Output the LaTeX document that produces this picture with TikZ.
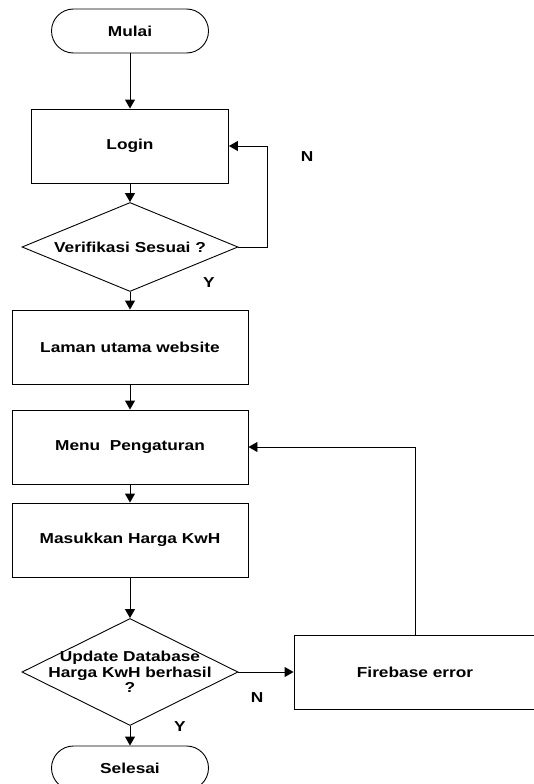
\documentclass[tikz,border=0pt]{standalone}
\usepackage{fontspec}
\setmainfont{Liberation Sans}[FakeStretch=1.2]
\usetikzlibrary{shapes.geometric,arrows.meta}
\begin{document}
\begin{tikzpicture}[x=1pt,y=-1pt,
  every node/.style={font=\fontsize{14.4}{15.3}\selectfont\bfseries, align=center},
  base/.style={draw, line width=0.9pt, inner sep=0pt},
  terminal/.style={base, rectangle, rounded corners=22pt, minimum width=157pt, minimum height=44pt},
  process/.style={base, rectangle, minimum height=74pt},
  decision/.style={base, diamond, minimum width=216pt},
  arr/.style={line width=0.9pt, -{Triangle[length=9pt,width=10pt]}},
  tag/.style={inner sep=0pt}]
  \useasboundingbox (0,0) rectangle (534,784);

  % flow nodes
  \node[terminal] (mulai) at (130,31) {Mulai};
  \node[process, minimum width=197pt] (login) at (130,146) {Login};
  \node[decision, minimum height=89pt] (verif) at (130,247) {};
  \node at (verif) {Verifikasi Sesuai ?};
  \node[process, minimum width=236pt] (laman) at (130,347) {Laman utama website};
  \node[process, minimum width=236pt] (menu) at (130,447) {Menu\ \ Pengaturan};
  \node[process, minimum width=236pt] (harga) at (130,540) {Masukkan Harga KwH};
  \node[decision, minimum height=107pt] (update) at (130,672) {};
  \node at (update) {Update Database\\Harga KwH berhasil\\?};
  \node[process, minimum width=242pt] (error) at (415,672) {Firebase error};
  \node[terminal] (selesai) at (130,768) {Selesai};

  % connectors
  \draw[arr] (mulai) -- (login);
  \draw[arr] (login) -- (verif);
  \draw[arr] (verif.east) -- ++(29,0) |- (login.east);
  \draw[arr] (verif) -- (laman);
  \draw[arr] (laman) -- (menu);
  \draw[arr] (menu) -- (harga);
  \draw[arr] (harga) -- (update);
  \draw[arr] (update.east) -- (error.west);
  \draw[arr] (error.north) |- (menu.east);
  \draw[arr] (update) -- (selesai);

  % branch labels
  \node[tag] (n1) at (307,157) {N};
  \node[tag] (y1) at (209,283) {Y};
  \node[tag] (n2) at (257,698) {N};
  \node[tag] (y2) at (180,727) {Y};
\end{tikzpicture}
\end{document}
